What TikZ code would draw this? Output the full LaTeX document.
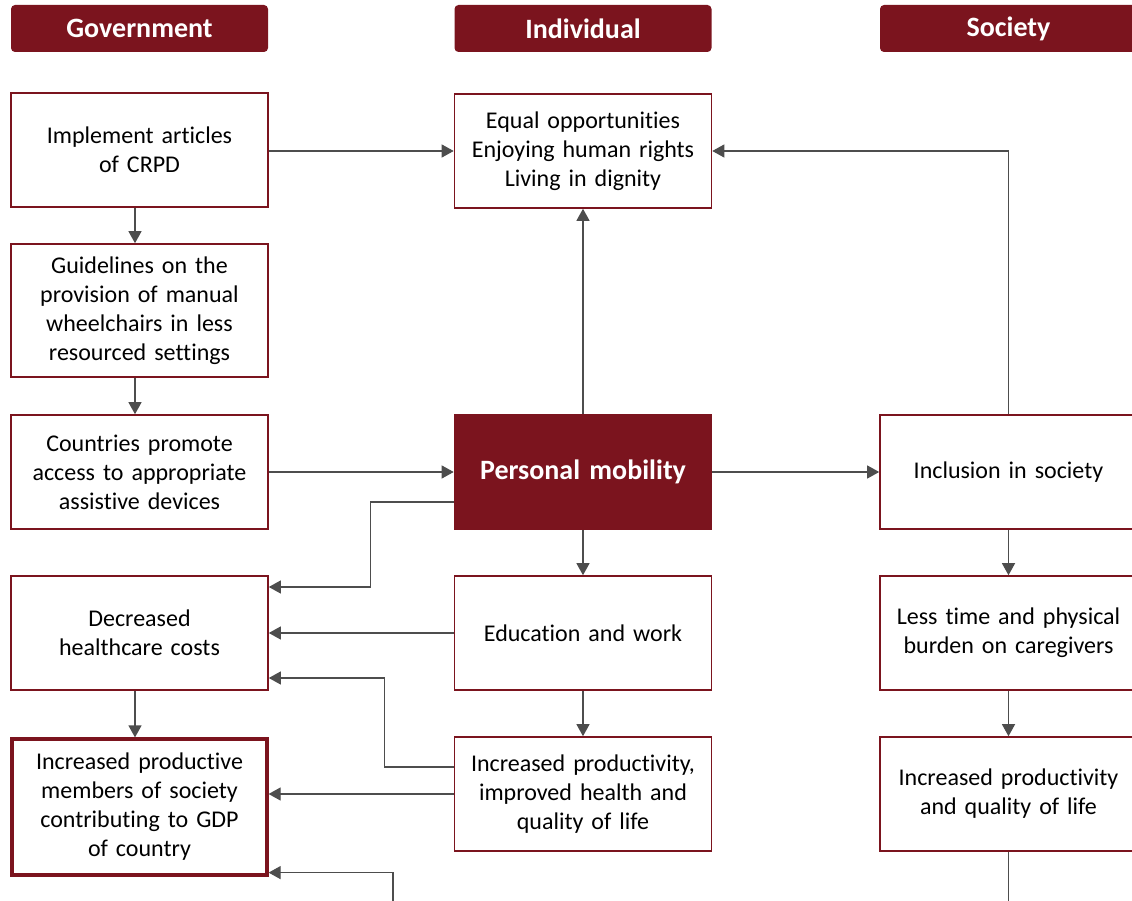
\documentclass[tikz,border=0pt]{standalone}
\usepackage{fontspec}
\setmainfont{Carlito}[Ligatures=NoCommon]
\usetikzlibrary{arrows.meta,calc}
\definecolor{dred}{HTML}{7B141E}
\definecolor{lgray}{HTML}{4D4D4D}
\begin{document}
\begin{tikzpicture}[x=1pt,y=-1pt,
  box/.style={draw=dred, line width=1.6pt, fill=white, minimum width=257pt, minimum height=114pt,
    text width=250pt, align=center, inner sep=0pt, font=\fontsize{24}{29}\selectfont},
  hdr/.style={fill=dred, rounded corners=4pt, minimum width=257pt, minimum height=47pt, inner sep=0pt,
    text=white, font=\fontsize{28}{30}\selectfont\bfseries},
  arr/.style={draw=lgray, line width=1.2pt, -{Triangle[length=12pt,width=13pt]}},
  conn/.style={draw=lgray, line width=1.2pt}]
\useasboundingbox (0,0) rectangle (1132,901);
\clip (0,0) rectangle (1132,901);
% headers
\node[hdr] (hgov) at (139.5,28.5) {Government};
\node[hdr] (hind) at (583,28.5) {Individual};
\node[hdr] (hsoc) at (1008.5,28.5) {Society};
% left column
\node[box] (imp) at (139.5,150) {Implement articles\\of CRPD};
\node[box, minimum height=133pt] (guide) at (139.5,310.5) {Guidelines on the\\provision of manual\\wheelchairs in less\\resourced settings};
\node[box] (countries) at (139.5,472) {Countries promote\\access to appropriate\\assistive devices};
\node[box] (decr) at (139.5,633) {Decreased\\healthcare costs};
\node[box, line width=3.2pt, minimum width=255pt, minimum height=136pt] (members) at (139.5,807) {Increased productive\\members of society\\contributing to GDP\\of country};
% middle column
\node[box] (equal) at (583,151) {Equal opportunities\\Enjoying human rights\\Living in dignity};
\node[box, fill=dred, draw=dred, text=white, font=\fontsize{28}{30}\selectfont\bfseries] (pm) at (583,472) {Personal mobility};
\node[box] (edu) at (583,633) {Education and work};
\node[box] (incprod) at (583,794) {Increased productivity,\\improved health and\\quality of life};
% right column
\node[box] (incl) at (1008.5,472) {Inclusion in society};
\node[box] (less) at (1008.5,633) {Less time and physical\\burden on caregivers};
\node[box] (incq) at (1008.5,794) {Increased productivity\\and quality of life};
\coordinate (bot) at (393,905);
% connectors
\draw[arr] (imp.east |- equal.west) -- (equal.west);
\draw[arr] ($(imp.south)+(-4.5,0)$) -- ($(guide.north)+(-4.5,0)$);
\draw[arr] ($(guide.south)+(-4.5,0)$) -- ($(countries.north)+(-4.5,0)$);
\draw[arr] (countries.east) -- (pm.west);
\draw[arr] (pm.north) -- (equal.south);
\draw[arr] (pm.east) -- (incl.west);
\draw[arr] (pm.south) -- (edu.north);
\draw[arr] ($(pm.west)+(0,30)$) -| ($(decr.east)+(102,-46)$) |- ($(decr.east)+(0,-46)$);
\draw[arr] (edu.west) -- (decr.east);
\draw[arr] (edu.south) -- (incprod.north);
\draw[arr] ($(decr.south)+(-4.5,0)$) -- ($(members.north)+(-4.5,0)$);
\draw[arr] ($(incprod.west)+(0,-27)$) -| ($(decr.east)+(116,45)$) -- ($(decr.east)+(0,45)$);
\draw[arr] (incprod.west) -- (incprod.west -| members.east);
\draw[arr] (bot) |- ($(members.south east)+(0,-4)$);
\draw[arr] (incl.north) |- (equal.east);
\draw[arr] (incl.south) -- (less.north);
\draw[arr] (less.south) -- (incq.north);
\draw[conn] (incq.south) -- (incq.south |- bot);
\end{tikzpicture}
\end{document}
